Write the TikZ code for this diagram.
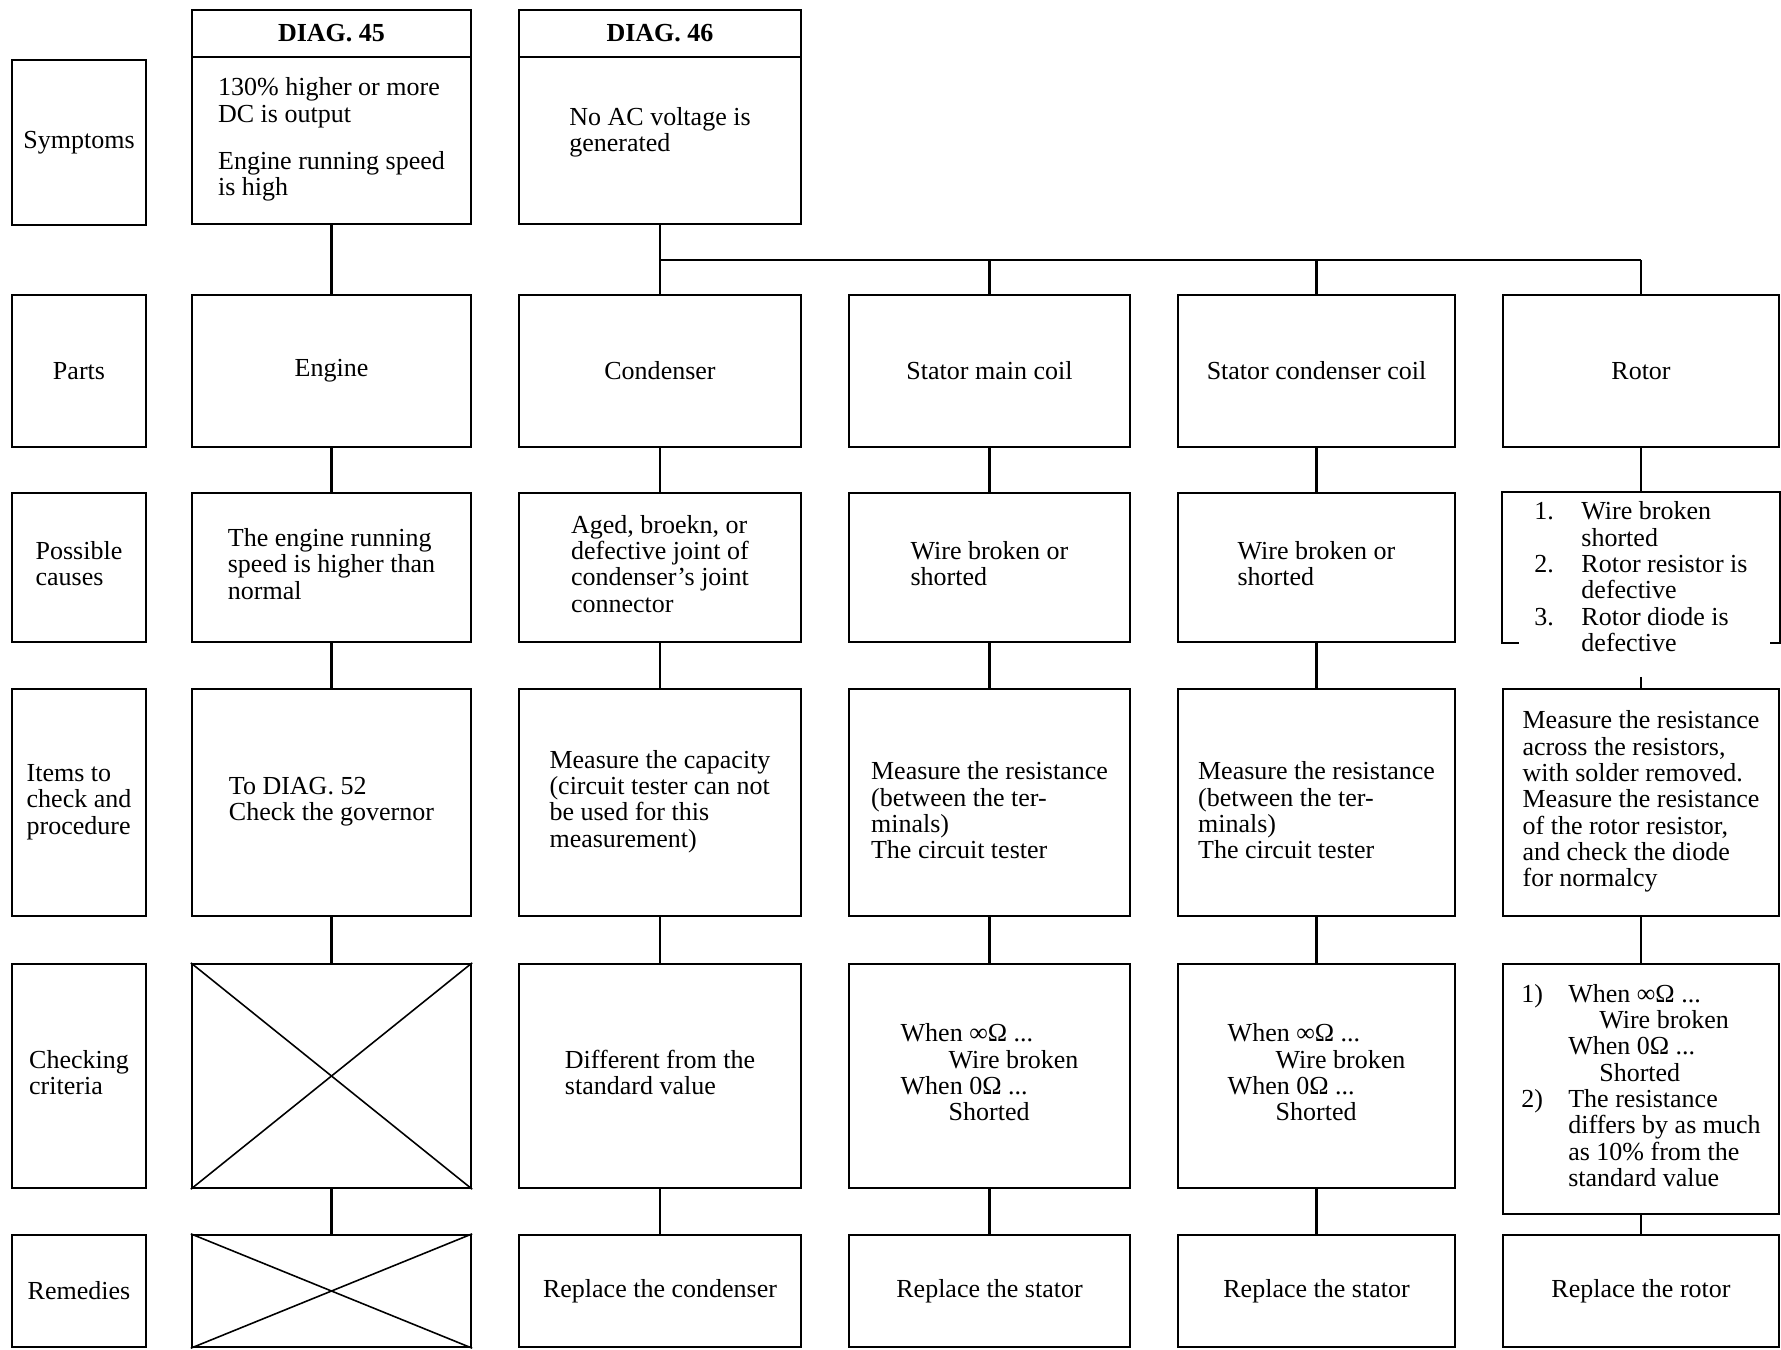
\documentclass[tikz,border=0pt]{standalone}
\usepackage{fontspec}
\setmainfont{Liberation Serif}
\usepackage{tikz}
\usetikzlibrary{calc}
\newcommand{\chartfont}{\fontsize{14.8}{15}\selectfont}
\newcommand{\cellrows}[1]{\begin{tabular}{@{}l@{}}#1\end{tabular}}
\newcommand{\lnum}[1]{\makebox[0.94cm][l]{#1}}
\newcommand{\lpad}{\hspace*{0.94cm}}
\newcommand{\wpad}{\hspace*{0.96cm}}

\begin{document}
\begin{tikzpicture}[x=0.02cm, y=-0.02cm,
    cell/.style 2 args={draw, line width=1.3pt, inner sep=0pt, font=\chartfont,
        minimum width=#1*0.02cm, minimum height=#2*0.02cm},
    link/.style={line width=1.2pt},
    cross/.style={line width=0.9pt}]
    \useasboundingbox (0,0) rectangle (1781,1349);

    % Row titles
    \node[cell={134}{165}] (tsym) at (79,142.5) {Symptoms};
    \node[cell={134}{152}] (tpart) at (79,371) {Parts};
    \node[cell={134}{149}] (tcause) at (79,567.5) {\cellrows{Possible\\causes}};
    \node[cell={134}{227}] (titem) at (79,802.5) {\cellrows{Items to\\check and\\procedure}};
    \node[cell={134}{224}] (tchk) at (79,1076) {\cellrows{Checking\\criteria}};
    \node[cell={134}{112}] (trem) at (79,1291) {Remedies};

    % Symptoms
    \node[cell={279}{47}] (d45h) at (331.5,33.5) {\textbf{DIAG. 45}};
    \node[cell={279}{167}] (d45) at (331.5,140.5) {\cellrows{130\% higher or more\\DC is output\\[12pt]Engine running speed\\is high}};
    \node[cell={282}{47}] (d46h) at (660,33.5) {\textbf{DIAG. 46}};
    \node[cell={282}{167}] (d46) at (660,140.5) {\cellrows{No AC voltage is\\generated\\[8pt]}};

    % Parts
    \node[cell={279}{152}] (partA) at (331.5,371) {Engine};
    \node[cell={282}{152}] (partB) at (660,371) {Condenser};
    \node[cell={281}{152}] (partC) at (989.5,371) {Stator main coil};
    \node[cell={277}{152}] (partD) at (1316.5,371) {Stator condenser coil};
    \node[cell={276}{152}] (partE) at (1641,371) {Rotor};

    % Possible causes
    \node[cell={279}{149}] (causeA) at (331.5,567.5) {\cellrows{The engine running\\speed is higher than\\normal}};
    \node[cell={282}{149}] (causeB) at (660,567.5) {\cellrows{Aged, broekn, or\\defective joint of\\condenser's joint\\connector}};
    \node[cell={281}{149}] (causeC) at (989.5,567.5) {\cellrows{Wire broken or\\shorted}};
    \node[cell={277}{149}] (causeD) at (1316.5,567.5) {\cellrows{Wire broken or\\shorted}};
    % the rotor list runs out of its box
    \node[cell={276}{149}, draw=none] (causeE) at (1641,567.5) {};
    \draw[line width=1.3pt] ($(causeE.south west)+(17,0)$) -- (causeE.south west) -- (causeE.north west)
        -- (causeE.north east) -- (causeE.south east) -- ++(-10,0);
    \node[font=\chartfont, inner sep=0pt] (causeEtxt) at ($(causeE.center)+(0,13)$)
        {\cellrows{\lnum{1.}Wire broken\\\lpad shorted\\\lnum{2.}Rotor resistor is\\\lpad defective\\\lnum{3.}Rotor diode is\\\lpad defective}};

    % Items to check and procedure
    \node[cell={279}{227}] (itemA) at (331.5,802.5) {\cellrows{To DIAG. 52\\Check the governor}};
    \node[cell={282}{227}] (itemB) at (660,802.5) {\cellrows{Measure the capacity\\(circuit tester can not\\be used for this\\measurement)}};
    \node[cell={281}{227}] (itemC) at (989.5,802.5) {\cellrows{\\[-2pt]Measure the resistance\\(between the ter-\\minals)\\The circuit tester}};
    \node[cell={277}{227}] (itemD) at (1316.5,802.5) {\cellrows{\\[-2pt]Measure the resistance\\(between the ter-\\minals)\\The circuit tester}};
    \node[cell={276}{227}] (itemE) at (1641,802.5) {\cellrows{Measure the resistance\\across the resistors,\\with solder removed.\\Measure the resistance\\of the rotor resistor,\\and check the diode\\for normalcy}};

    % Checking criteria
    \node[cell={279}{224}] (chkA) at (331.5,1076) {};
    \draw[cross] (chkA.north west) -- (chkA.south east) (chkA.north east) -- (chkA.south west);
    \node[cell={282}{224}] (chkB) at (660,1076) {\cellrows{Different from the\\standard value}};
    \node[cell={281}{224}] (chkC) at (989.5,1076) {\cellrows{When ∞Ω ...\\\wpad Wire broken\\When 0Ω ...\\\wpad Shorted}};
    \node[cell={277}{224}] (chkD) at (1316.5,1076) {\cellrows{When ∞Ω ...\\\wpad Wire broken\\When 0Ω ...\\\wpad Shorted}};
    \node[cell={276}{250}] (chkE) at (1641,1089) {\cellrows{\lnum{1)}When ∞Ω ...\\\lpad\hspace*{0.62cm}Wire broken\\\lpad When 0Ω ...\\\lpad\hspace*{0.62cm}Shorted\\\lnum{2)}The resistance\\\lpad differs by as much\\\lpad as 10\% from the\\\lpad standard value}};

    % Remedies
    \node[cell={279}{112}] (remA) at (331.5,1291) {};
    \draw[cross] (remA.north west) -- (remA.south east) (remA.north east) -- (remA.south west);
    \node[cell={282}{112}] (remB) at (660,1291) {Replace the condenser};
    \node[cell={281}{112}] (remC) at (989.5,1291) {Replace the stator};
    \node[cell={277}{112}] (remD) at (1316.5,1291) {Replace the stator};
    \node[cell={276}{112}] (remE) at (1641,1291) {Replace the rotor};

    % Symptom to parts, with the bus of DIAG. 46
    \draw[link] (d45) -- (partA);
    \draw[link] (d46) -- (partB);
    \coordinate (busL) at (660,260);
    \coordinate (busR) at (1641,260);
    \draw[link] (busL) -- (busR);
    \foreach \c in {C,D,E} {
        \draw[link] (part\c.north) -- (part\c.north |- busL);
    }

    % Down each column
    \foreach \c in {A,B,C,D} {
        \draw[link] (part\c) -- (cause\c);
        \draw[link] (cause\c) -- (item\c);
    }
    \draw[link] (partE) -- (causeE.north);
    \draw[link, shorten <=0.34cm] (causeEtxt) -- (itemE);
    \foreach \c in {A,B,C,D,E} {
        \draw[link] (item\c) -- (chk\c);
        \draw[link] (chk\c) -- (rem\c);
    }
\end{tikzpicture}
\end{document}
